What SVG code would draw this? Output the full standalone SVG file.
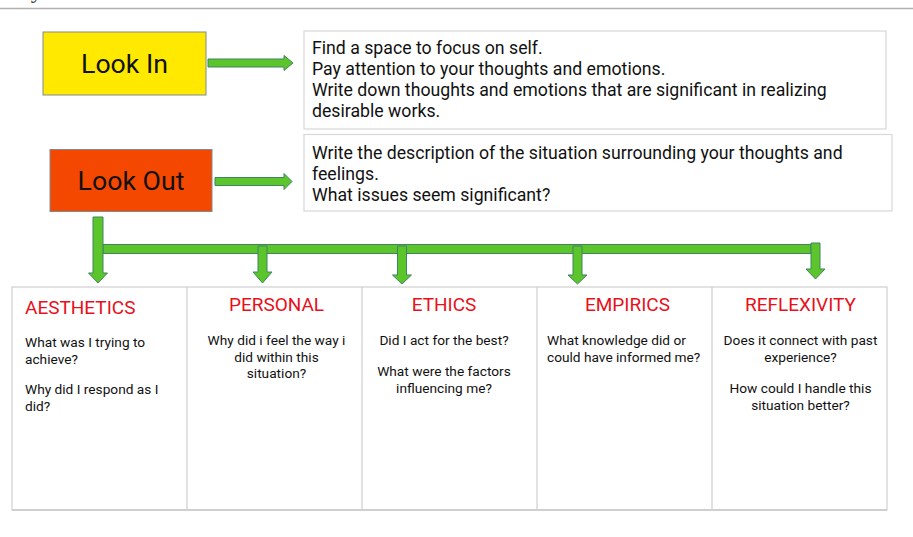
<svg xmlns="http://www.w3.org/2000/svg" width="913" height="537" viewBox="0 0 913 537">
<style>
  .t{font-family:Roboto,"Liberation Sans",sans-serif;fill:#111}
  .big{font-size:26.7px}
  .desc{font-size:17.7px}
  .hd{font-family:Roboto,"Liberation Sans",sans-serif;font-size:19px;fill:#E8101A}
  .body{font-family:Roboto,"Liberation Sans",sans-serif;font-size:13.7px;fill:#111}
  .c{text-anchor:middle}
  .arr{fill:#5CC52C;stroke:#3F8560;stroke-width:1;stroke-linejoin:miter}
  .box{fill:#fff;stroke:#d8d8d8;stroke-width:1.2}
  .grid{fill:none;stroke:#cfcfcf;stroke-width:1.2}
</style>
<rect width="913" height="537" fill="#fff"/>
<text x="-2" y="-2" style="font-family:'Liberation Serif',serif;font-size:24px;fill:#444">e Cycle</text>
<line x1="0" y1="8.5" x2="913" y2="8.5" stroke="#b0b0b0" stroke-width="1.5"/>

<g id="look-in">
  <rect x="43" y="32" width="163" height="63" fill="#FFE900" stroke="#7f8c96" stroke-width="1"/>
  <text class="t big c" x="124.5" y="72.5">Look In</text>
</g>
<g id="look-in-text">
  <rect class="box" x="304" y="31" width="582" height="98"/>
  <text class="t desc" x="312" y="54">Find a space to focus on self.</text>
  <text class="t desc" x="312" y="75">Pay attention to your thoughts and emotions.</text>
  <text class="t desc" x="312" y="96">Write down thoughts and emotions that are significant in realizing</text>
  <text class="t desc" x="312" y="117">desirable works.</text>
</g>
<g id="look-out">
  <rect x="50" y="149.5" width="162" height="62" fill="#F44800" stroke="#7f8c96" stroke-width="1"/>
  <text class="t big c" x="131" y="190">Look Out</text>
</g>
<g id="look-out-text">
  <rect class="box" x="304" y="134.5" width="588" height="76.5"/>
  <text class="t desc" x="312" y="159">Write the description of the situation surrounding your thoughts and</text>
  <text class="t desc" x="312" y="180">feelings.</text>
  <text class="t desc" x="312" y="201">What issues seem significant?</text>
</g>

<g id="table">
  <rect class="grid" x="12" y="287" width="875" height="223"/>
  <line x1="12" y1="510" x2="887" y2="510" stroke="#cfcfcf" stroke-width="2"/>
  <line class="grid" x1="187" y1="287" x2="187" y2="510"/>
  <line class="grid" x1="362" y1="287" x2="362" y2="510"/>
  <line class="grid" x1="537" y1="287" x2="537" y2="510"/>
  <line class="grid" x1="712" y1="287" x2="712" y2="510"/>
</g>
<g id="aesthetics">
  <text class="hd" x="25" y="313.5">AESTHETICS</text>
  <text class="body" x="25" y="346.5">What was I trying to</text>
  <text class="body" x="25" y="363.5">achieve?</text>
  <text class="body" x="25" y="393.5">Why did I respond as I</text>
  <text class="body" x="25" y="410.5">did?</text>
</g>
<g id="personal">
  <text class="hd c" x="276.5" y="311">PERSONAL</text>
  <text class="body c" x="276.5" y="345">Why did i feel the way i</text>
  <text class="body c" x="276.5" y="361.5">did within this</text>
  <text class="body c" x="276.5" y="378">situation?</text>
</g>
<g id="ethics">
  <text class="hd c" x="444" y="311">ETHICS</text>
  <text class="body c" x="444" y="345">Did I act for the best?</text>
  <text class="body c" x="444" y="376">What were the factors</text>
  <text class="body c" x="444" y="393">influencing me?</text>
</g>
<g id="empirics">
  <text class="hd c" x="627.5" y="311">EMPIRICS</text>
  <text class="body" x="547" y="345">What knowledge did or</text>
  <text class="body" x="547" y="361.5">could have informed me?</text>
</g>
<g id="reflexivity">
  <text class="hd c" x="800.5" y="311">REFLEXIVITY</text>
  <text class="body c" x="800.5" y="345">Does it connect with past</text>
  <text class="body c" x="800.5" y="361.5">experience?</text>
  <text class="body c" x="800.5" y="393">How could I handle this</text>
  <text class="body c" x="800.5" y="410">situation better?</text>
</g>

<g id="connectors">
  <polygon class="arr" points="208,59 284,59 284,55.5 293,63 284,70.5 284,67 208,67"/>
  <polygon class="arr" points="215,177.5 284,177.5 284,173.5 292,181.5 284,189.5 284,185.5 215,185.5"/>
  <polygon class="arr" points="103,244.5 811,244.5 811,253.5 103,253.5"/>
  <polygon class="arr" points="93,217 103,217 103,273 107.5,273 98,283 88.5,273 93,273"/>
  <polygon class="arr" points="258,246 267,246 267,272 272,272 262.5,283 253,272 258,272"/>
  <polygon class="arr" points="397.5,246 406.5,246 406.5,275 411.5,275 402,284 392.5,275 397.5,275"/>
  <polygon class="arr" points="573,246 582,246 582,275 587,275 577.5,284 568,275 573,275"/>
  <polygon class="arr" points="811,243 820,243 820,269 825,269 815.5,279 806,269 811,269"/>
</g>
</svg>
